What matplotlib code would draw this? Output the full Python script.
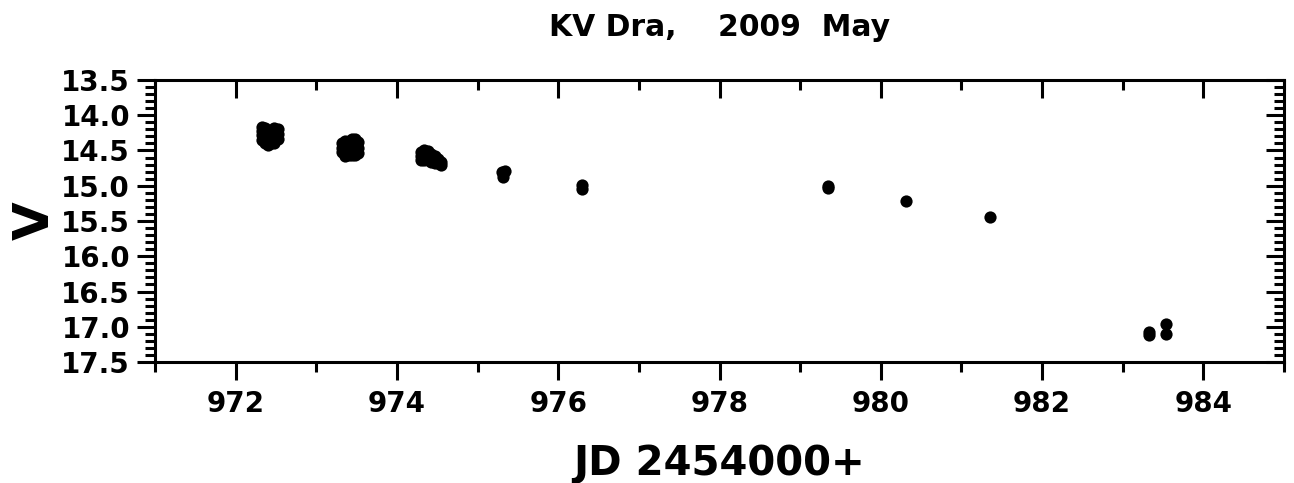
import matplotlib
matplotlib.use("Agg")
import matplotlib.pyplot as plt
from matplotlib.ticker import MultipleLocator, FormatStrFormatter
from matplotlib import lines

plt.rcParams['font.family'] = ['DejaVu Sans']
plt.rcParams['font.weight'] = 'bold'

# JD - 2454000 and V magnitude
jd = [972.33, 972.33, 972.33, 972.33,
      972.36, 972.36, 972.36, 972.36,
      972.40, 972.40, 972.40, 972.40,
      972.44, 972.44, 972.44,
      972.48, 972.48, 972.48, 972.48,
      972.52, 972.52, 972.52,
      973.32, 973.32, 973.32,
      973.36, 973.36, 973.36, 973.36,
      973.40, 973.40, 973.40, 973.40,
      973.44, 973.44, 973.44, 973.44,
      973.48, 973.48, 973.48, 973.48,
      973.52, 973.52, 973.52,
      974.30, 974.30, 974.30,
      974.34, 974.34, 974.34,
      974.38, 974.38, 974.38,
      974.42, 974.42, 974.42,
      974.47, 974.47, 974.47,
      974.51, 974.51,
      974.54, 974.54,
      975.30, 975.34, 975.32,
      976.30, 976.30,
      979.35, 979.35,
      980.31,
      981.35,
      983.33, 983.33,
      983.54, 983.54]
vmag = [14.17, 14.22, 14.28, 14.35,
        14.18, 14.25, 14.32, 14.40,
        14.22, 14.30, 14.38, 14.42,
        14.25, 14.32, 14.40,
        14.18, 14.27, 14.35, 14.40,
        14.19, 14.26, 14.33,
        14.40, 14.47, 14.52,
        14.37, 14.45, 14.53, 14.58,
        14.36, 14.44, 14.52, 14.57,
        14.33, 14.42, 14.50, 14.57,
        14.33, 14.40, 14.48, 14.56,
        14.38, 14.46, 14.53,
        14.52, 14.58, 14.63,
        14.50, 14.57, 14.64,
        14.51, 14.58, 14.64,
        14.55, 14.62, 14.66,
        14.58, 14.64, 14.68,
        14.62, 14.68,
        14.66, 14.70,
        14.80, 14.79, 14.87,
        14.99, 15.04,
        15.00, 15.03,
        15.22,
        15.45,
        17.08, 17.12,
        16.96, 17.10]

fig = plt.figure(figsize=(12.94, 4.83), dpi=100)
ax = fig.add_axes([0.1198, 0.2505, 0.8725, 0.5839])

ax.plot(jd, vmag, 'o', color='black', markersize=8.8, markeredgewidth=0)

ax.set_xlim(971, 985)
ax.set_ylim(17.5, 13.5)

ax.xaxis.set_major_locator(MultipleLocator(2))
ax.xaxis.set_minor_locator(MultipleLocator(1))
ax.yaxis.set_major_locator(MultipleLocator(0.5))
ax.yaxis.set_minor_locator(MultipleLocator(0.1))
ax.yaxis.set_major_formatter(FormatStrFormatter('%.1f'))

for s in ax.spines.values():
    s.set_linewidth(2.2)

ax.tick_params(axis='both', which='major', direction='out', length=13, width=2.2,
               labelsize=20, pad=5)
ax.tick_params(axis='x', which='major', pad=7)
ax.tick_params(axis='both', which='minor', direction='out', length=7, width=2.2)
ax.tick_params(axis='x', which='both', top=True)
ax.tick_params(axis='y', which='both', right=True)
# top and right ticks point inward
for t in ax.xaxis.get_major_ticks() + ax.xaxis.get_minor_ticks():
    t.tick2line.set_marker(lines.TICKDOWN)
for t in ax.yaxis.get_major_ticks() + ax.yaxis.get_minor_ticks():
    t.tick2line.set_marker(lines.TICKLEFT)

for lab in ax.get_xticklabels() + ax.get_yticklabels():
    lab.set_fontweight('bold')

ax.set_xlabel('JD 2454000+', fontsize=29, fontweight='bold', labelpad=19)
ax.set_ylabel('V', fontsize=36, fontweight='bold', labelpad=2)
ax.set_title('KV Dra,    2009  May', fontsize=21.5, fontweight='bold', pad=32)

fig.savefig('out.png', dpi=100)
